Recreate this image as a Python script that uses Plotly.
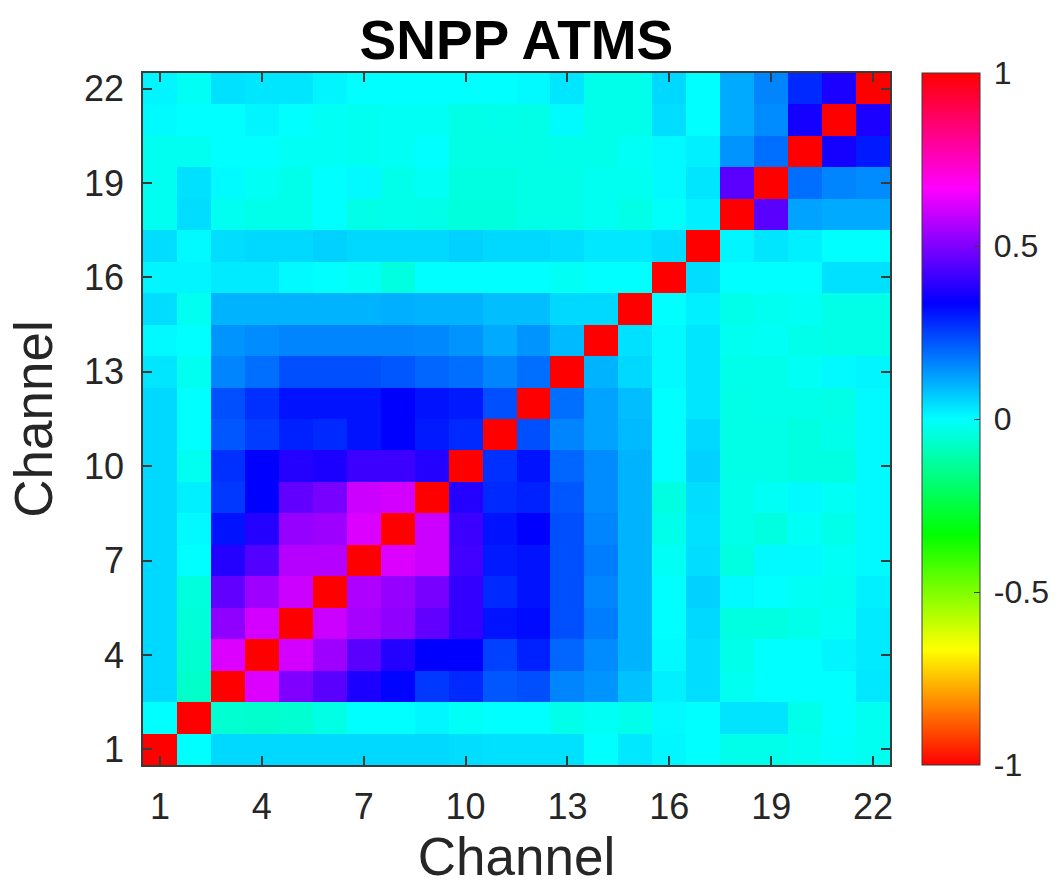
import plotly.graph_objects as go

channels = list(range(1, 23))
tick_vals = [1, 4, 7, 10, 13, 16, 19, 22]
cbar_vals = [-1, -0.5, 0, 0.5, 1]
cbar_text = ["-1", "-0.5", "0", "0.5", "1"]

# correlation rows, channel 1 (bottom) to channel 22 (top); columns channel 1..22
ch01 = [1, 0.0, 0.05, 0.05, 0.05, 0.05, 0.05, 0.05, 0.05, 0.045, 0.04, 0.04, 0.04, 0.0, 0.03, 0.01, 0.0, -0.026, -0.026, -0.02, -0.005, -0.02]
ch02 = [0.0, 1, -0.06, -0.065, -0.06, -0.035, 0.0, 0.0, 0.01, -0.01, 0.0, 0.0, -0.026, -0.013, -0.026, 0.007, 0.0, 0.035, 0.035, -0.026, 0.0, -0.02]
ch03 = [0.05, -0.07, 1, 0.62, 0.50, 0.45, 0.37, 0.33, 0.26, 0.28, 0.22, 0.23, 0.16, 0.14, 0.08, 0.02, 0.045, -0.02, 0.0, 0.0, 0.0, 0.03]
ch04 = [0.05, -0.06, 0.62, 1, 0.61, 0.54, 0.45, 0.38, 0.333, 0.333, 0.25, 0.29, 0.2, 0.15, 0.1, 0.007, 0.045, -0.026, 0.0, 0.0, 0.013, 0.026]
ch05 = [0.05, -0.05, 0.52, 0.61, 1, 0.6, 0.55, 0.52, 0.46, 0.40, 0.31, 0.32, 0.23, 0.17, 0.1, 0.0, 0.05, -0.04, -0.04, -0.026, -0.013, 0.026]
ch06 = [0.05, -0.045, 0.46, 0.54, 0.6, 1, 0.56, 0.53, 0.49, 0.40, 0.28, 0.31, 0.23, 0.16, 0.1, 0.0, 0.06, 0.007, 0.0, -0.013, -0.02, 0.02]
ch07 = [0.05, 0.0, 0.38, 0.44, 0.57, 0.57, 1, 0.62, 0.60, 0.42, 0.30, 0.31, 0.23, 0.17, 0.1, -0.013, 0.045, -0.04, 0.007, 0.007, -0.013, 0.007]
ch08 = [0.05, 0.007, 0.31, 0.38, 0.53, 0.54, 0.62, 1, 0.60, 0.41, 0.31, 0.333, 0.23, 0.16, 0.1, -0.026, 0.04, -0.026, -0.04, -0.013, -0.026, 0.007]
ch09 = [0.05, 0.02, 0.26, 0.333, 0.46, 0.49, 0.60, 0.61, 1, 0.38, 0.28, 0.29, 0.22, 0.15, 0.1, -0.04, 0.045, -0.026, -0.013, 0.007, -0.013, 0.007]
ch10 = [0.05, -0.02, 0.27, 0.333, 0.38, 0.37, 0.41, 0.41, 0.38, 1, 0.27, 0.31, 0.2, 0.15, 0.1, 0.0, 0.06, -0.033, -0.033, -0.04, -0.04, 0.007]
ch11 = [0.05, 0.0, 0.22, 0.255, 0.29, 0.28, 0.31, 0.333, 0.30, 0.28, 1, 0.23, 0.16, 0.12, 0.09, 0.0, 0.05, -0.033, -0.033, -0.04, -0.026, 0.007]
ch12 = [0.05, 0.0, 0.23, 0.27, 0.31, 0.31, 0.31, 0.333, 0.31, 0.30, 0.23, 1, 0.19, 0.12, 0.085, 0.0, 0.033, -0.033, -0.026, -0.026, -0.033, 0.007]
ch13 = [0.033, -0.02, 0.16, 0.19, 0.23, 0.23, 0.23, 0.22, 0.20, 0.19, 0.16, 0.19, 1, 0.1, 0.05, 0.007, 0.033, -0.026, -0.026, -0.013, 0.007, 0.013]
ch14 = [0.007, 0.0, 0.14, 0.15, 0.16, 0.16, 0.16, 0.16, 0.155, 0.14, 0.11, 0.14, 0.09, 1, 0.04, 0.007, 0.033, -0.02, -0.013, -0.026, -0.033, -0.033]
ch15 = [0.045, -0.02, 0.1, 0.1, 0.1, 0.1, 0.1, 0.105, 0.1, 0.1, 0.085, 0.085, 0.05, 0.05, 1, 0.0, 0.02, -0.026, -0.02, -0.013, -0.033, -0.033]
ch16 = [0.013, 0.013, 0.026, 0.026, 0.007, 0.0, -0.013, -0.04, 0.0, 0.0, 0.0, 0.0, -0.013, 0.0, 0.0, 1, 0.045, 0.0, 0.0, 0.0, 0.04, 0.04]
ch17 = [0.045, 0.007, 0.045, 0.05, 0.05, 0.06, 0.05, 0.05, 0.05, 0.06, 0.05, 0.05, 0.045, 0.03, 0.03, 0.045, 1, 0.013, 0.033, 0.02, 0.0, 0.0]
ch18 = [-0.02, 0.045, -0.02, -0.026, -0.026, 0.0, -0.033, -0.026, -0.033, -0.045, -0.045, -0.033, -0.033, -0.02, -0.033, -0.007, 0.02, 1, 0.45, 0.12, 0.11, 0.11]
ch19 = [-0.02, 0.04, 0.005, -0.013, -0.026, 0.0, 0.007, -0.026, -0.013, -0.04, -0.04, -0.033, -0.033, -0.02, -0.02, 0.007, 0.033, 0.45, 1, 0.19, 0.16, 0.15]
ch20 = [-0.02, -0.02, 0.0, 0.0, -0.013, -0.013, -0.02, -0.013, 0.0, -0.033, -0.033, -0.033, -0.026, -0.026, -0.013, 0.007, 0.02, 0.14, 0.19, 1, 0.36, 0.30]
ch21 = [0.005, 0.0, 0.0, 0.013, 0.0, -0.013, -0.02, -0.013, -0.013, -0.033, -0.026, -0.033, 0.005, -0.026, -0.026, 0.045, 0.0, 0.11, 0.15, 0.36, 1, 0.37]
ch22 = [0.013, -0.013, 0.04, 0.033, 0.033, 0.013, 0.0, 0.0, 0.0, 0.0, 0.0, 0.007, 0.033, -0.026, -0.026, 0.05, 0.0, 0.11, 0.16, 0.28, 0.37, 1]

z = [ch01, ch02, ch03, ch04, ch05, ch06, ch07, ch08, ch09, ch10, ch11,
     ch12, ch13, ch14, ch15, ch16, ch17, ch18, ch19, ch20, ch21, ch22]

# MATLAB-style hsv colormap
hsv_scale = [
    [0.0, "rgb(255,0,0)"],
    [1 / 6, "rgb(255,255,0)"],
    [2 / 6, "rgb(0,255,0)"],
    [3 / 6, "rgb(0,255,255)"],
    [4 / 6, "rgb(0,0,255)"],
    [5 / 6, "rgb(255,0,255)"],
    [1.0, "rgb(255,0,0)"],
]

FONT = "Liberation Sans, Arial, Helvetica, sans-serif"
AX = "#262626"
LINE = "#3a3a3a"

W, H = 1063, 886
ML, MR, MT, MB = 143, 0, 73, 121
paper_w = W - ML - MR
plot_right = 890
bar_left = 922

fig = go.Figure(
    go.Heatmap(
        z=z, x=channels, y=channels,
        zmin=-1, zmax=1, colorscale=hsv_scale,
        colorbar=dict(
            x=(bar_left - ML) / paper_w, xanchor="left", xpad=0, ypad=0,
            y=0, yanchor="bottom", len=1, lenmode="fraction",
            thickness=58, thicknessmode="pixels",
            outlinecolor=LINE, outlinewidth=1,
            tickvals=cbar_vals, ticktext=["\u2009" + t for t in cbar_text],
            ticks="inside", ticklen=6, tickcolor=LINE,
            tickfont=dict(family=FONT, size=32, color=AX),
        ),
        hoverongaps=False,
    )
)

axis_common = dict(
    range=[0.5, 22.5], tickvals=tick_vals,
    showline=True, linecolor=LINE, linewidth=1.5, mirror="allticks",
    ticks="inside", ticklen=9, tickcolor=LINE, tickwidth=1.5,
    showgrid=False, zeroline=False,
    tickfont=dict(family=FONT, size=36, color=AX),
)

fig.update_layout(
    width=W, height=H,
    margin=dict(l=ML, r=MR, t=MT, b=MB, autoexpand=False),
    paper_bgcolor="white", plot_bgcolor="white",
    title=dict(text="<b>SNPP ATMS</b>", x=0.4858, xanchor="center", y=0.955, yanchor="middle",
               font=dict(family=FONT, size=55, color="black")),
    xaxis=dict(**axis_common, domain=[0, (plot_right - ML) / paper_w],
               title=dict(text="Channel", font=dict(family=FONT, size=53, color=AX), standoff=10),
               ticklabelstandoff=9),
    yaxis=dict(**axis_common,
               title=dict(text="Channel", font=dict(family=FONT, size=53, color=AX), standoff=14),
               ticklabelstandoff=10),
)

fig.write_html("out.html")
